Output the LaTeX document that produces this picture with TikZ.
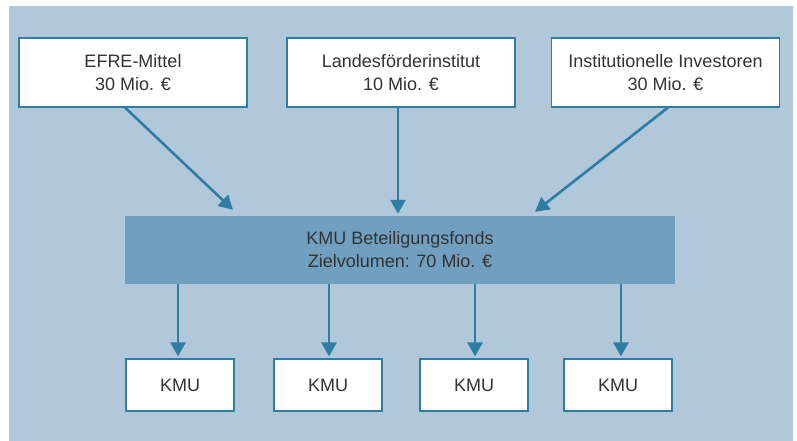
\documentclass[tikz,border=0pt]{standalone}
\usepackage{fontspec}
\setmainfont{Liberation Sans}
\usetikzlibrary{arrows.meta,calc}
\definecolor{bgblue}{HTML}{B1C8DB}
\definecolor{fundblue}{HTML}{709FBF}
\definecolor{linecol}{HTML}{2F7DA2}
\definecolor{txt}{HTML}{333333}
\begin{document}
\begin{tikzpicture}[x=1pt,y=1pt,
  srcbox/.style={draw=linecol,line width=1.1pt,fill=white,minimum width=228pt,minimum height=69pt,
     align=center,text=txt,font=\fontsize{18}{23}\selectfont,inner sep=0pt},
  kmubox/.style={draw=linecol,line width=1.1pt,fill=white,minimum width=108pt,minimum height=52pt,
     text=txt,font=\fontsize{18}{23}\selectfont,inner sep=0pt},
  fundbox/.style={fill=fundblue,minimum width=550pt,minimum height=68pt,align=center,text=txt,
     font=\fontsize{18}{23}\selectfont,inner sep=0pt},
  conn/.style={draw=linecol,line width=2.6pt,-{Triangle[length=14pt,width=15pt]}}]
\useasboundingbox (0,0) rectangle (797,441);
\fill[bgblue] (9,0) rectangle (793,435);
\node[srcbox] (efre) at (133,368.5) {EFRE-Mittel\\30 Mio. €};
\node[srcbox] (lfi) at (401,368.5) {Landesförderinstitut\\10 Mio. €};
\node[srcbox] (inv) at (665.5,368.5) {Institutionelle Investoren\\30 Mio. €};
\node[fundbox] (fund) at (400,191) {KMU Beteiligungsfonds\\Zielvolumen: 70 Mio. €};
\node[kmubox] (k1) at (180,56) {KMU};
\node[kmubox] (k2) at (328,56) {KMU};
\node[kmubox] (k3) at (474,56) {KMU};
\node[kmubox] (k4) at (618,56) {KMU};
\draw[conn,shorten >=8.7pt] ($(efre.south)+(-8,0)$) -- ($(fund.north)+(-160.7,0)$);
\draw[conn,shorten >=2pt] ($(lfi.south)+(-3,0)$) -- ($(fund.north)+(-2,0)$);
\draw[conn,shorten >=6.5pt] ($(inv.south)+(2.5,0)$) -- ($(fund.north)+(129.9,0)$);
\draw[conn,shorten >=2pt] ($(fund.south)+(-222,0)$) -- ($(k1.north)+(-2,0)$);
\draw[conn,shorten >=2pt] ($(fund.south)+(-71,0)$) -- ($(k2.north)+(1,0)$);
\draw[conn,shorten >=2pt] ($(fund.south)+(75,0)$) -- ($(k3.north)+(1,0)$);
\draw[conn,shorten >=2pt] ($(fund.south)+(221,0)$) -- ($(k4.north)+(3,0)$);
\end{tikzpicture}
\end{document}
